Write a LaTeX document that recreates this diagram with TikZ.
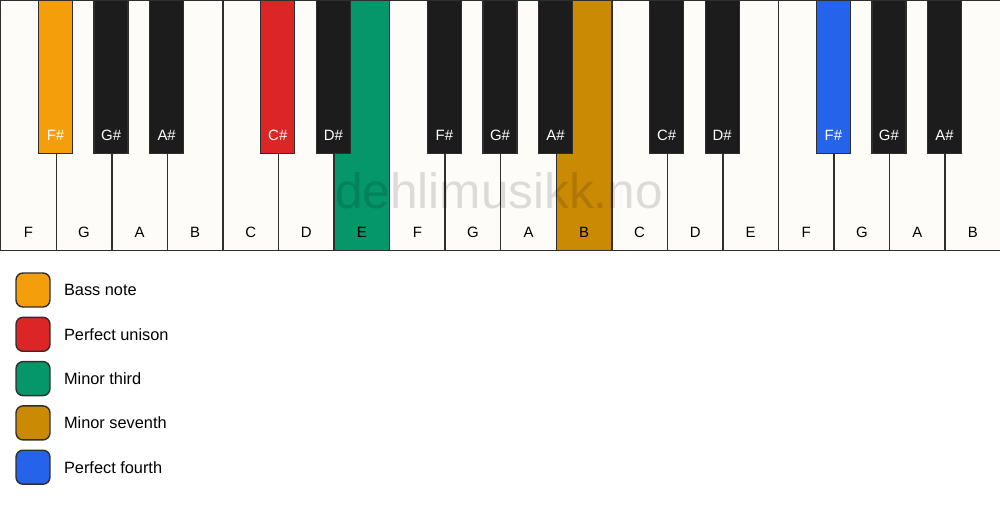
\documentclass[tikz,border=0pt]{standalone}
\usepackage{fontspec}
\setmainfont{Liberation Sans}
\usepackage{tikz}
\usetikzlibrary{positioning}
\usepackage{xcolor}

\definecolor{keywhite}{HTML}{FDFCF8}
\definecolor{keyblack}{HTML}{1C1C1C}
\definecolor{keyline}{HTML}{2E2E2E}
\definecolor{bassnote}{HTML}{F59E0B}
\definecolor{unison}{HTML}{DC2626}
\definecolor{minthird}{HTML}{059669}
\definecolor{minseventh}{HTML}{CA8A04}
\definecolor{perffourth}{HTML}{2563EB}

\begin{document}
\begin{tikzpicture}[
    x=0.02cm, y=-0.02cm,
    whitekey/.style={rectangle, draw=keyline, line width=0.8pt, minimum width=1.111cm, minimum height=5cm, inner sep=0pt, anchor=north west},
    blackkey/.style={rectangle, draw=keyline, line width=0.8pt, minimum width=0.68cm, minimum height=3.06cm, inner sep=0pt, anchor=north},
    whitename/.style={anchor=base, inner sep=0pt, font=\fontsize{8.5}{10}\selectfont},
    blackname/.style={anchor=base, inner sep=0pt, text=white, font=\fontsize{8.5}{10}\selectfont},
    watermark/.style={anchor=base, inner sep=0pt, text=black, text opacity=0.13, font=\fontsize{28.2}{31}\selectfont},
    legendbox/.style={rectangle, draw=keyline, line width=0.8pt, rounded corners=4pt, minimum size=0.68cm, inner sep=0pt},
    legendtext/.style={anchor=west, inner sep=0pt, font=\fontsize{9.3}{11}\selectfont}
]
    \useasboundingbox[fill=white] (0,0) rectangle (1000,506);

    % White keys
    \foreach \nm/\col [count=\i from 0] in {F/keywhite, G/keywhite, A/keywhite, B/keywhite, C/keywhite, D/keywhite, E/minthird, F/keywhite, G/keywhite, A/keywhite, B/minseventh, C/keywhite, D/keywhite, E/keywhite, F/keywhite, G/keywhite, A/keywhite, B/keywhite} {
        \node[whitekey, fill=\col] (w\i) at (\i*55.556,0) {};
        \node[whitename] (wn\i) at ([yshift=0.28cm]w\i.south) {\nm};
    }

    % Watermark
    \node[watermark] (mark) at (499,209) {dehlimusikk.no};

    % Black keys
    \foreach \i/\nm/\col in {1/F\#/bassnote, 2/G\#/keyblack, 3/A\#/keyblack, 5/C\#/unison, 6/D\#/keyblack, 8/F\#/keyblack, 9/G\#/keyblack, 10/A\#/keyblack, 12/C\#/keyblack, 13/D\#/keyblack, 15/F\#/perffourth, 16/G\#/keyblack, 17/A\#/keyblack} {
        \node[blackkey, fill=\col] (b\i) at (w\i.north west) {};
        \node[blackname] (bn\i) at ([yshift=0.28cm]b\i.south) {\nm};
    }

    % Legend
    \foreach \col/\txt [count=\j from 0] in {bassnote/Bass note, unison/Perfect unison, minthird/Minor third, minseventh/Minor seventh, perffourth/Perfect fourth} {
        \node[legendbox, fill=\col] (lg\j) at (33,290+\j*44.3) {};
        \node[legendtext, right=0.26cm of lg\j] (lt\j) {\txt};
    }
\end{tikzpicture}
\end{document}
